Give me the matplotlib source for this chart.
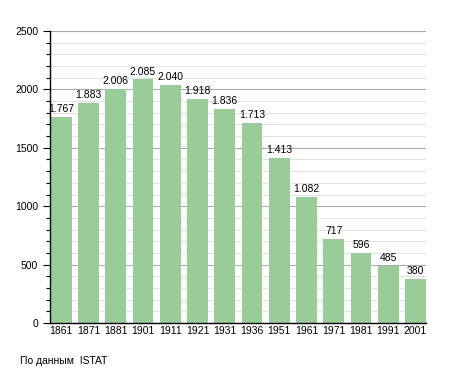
import matplotlib.pyplot as plt
from matplotlib.ticker import MultipleLocator

years = ["1861", "1871", "1881", "1901", "1911", "1921", "1931",
         "1936", "1951", "1961", "1971", "1981", "1991", "2001"]
population = [1767, 1883, 2006, 2085, 2040, 1918, 1836,
              1713, 1413, 1082, 717, 596, 485, 380]

plt.rcParams['font.family'] = ['Liberation Sans', 'DejaVu Sans']

fig = plt.figure(figsize=(4.55, 3.73), dpi=100)
ax = fig.add_axes([0.110, 0.134, 0.826, 0.783])

x = range(len(years))
ax.bar(x, population, width=0.76, color='#99cc99', zorder=2)
for i, v in zip(x, population):
    ax.text(i, v + 25, f"{v:,}".replace(",", "."), ha='center', va='bottom',
            fontsize=7.5, zorder=3)

ax.set_xlim(-0.41, 13.38)
ax.set_ylim(0, 2500)
ax.set_xticks(list(x))
ax.set_xticklabels(years, fontsize=7.5)
ax.yaxis.set_major_locator(MultipleLocator(500))
ax.yaxis.set_minor_locator(MultipleLocator(100))
ax.tick_params(axis='y', labelsize=7.5, length=5, width=0.8)
ax.tick_params(axis='y', which='minor', length=3, width=0.8)
ax.tick_params(axis='x', length=0, pad=2)

ax.grid(axis='y', which='major', color='#aaaaaa', linewidth=0.8, zorder=0)
ax.grid(axis='y', which='minor', color='#e2e2e2', linewidth=0.8, zorder=0)
ax.set_axisbelow(True)
for s in ['top', 'right']:
    ax.spines[s].set_visible(False)
ax.spines['left'].set_linewidth(1.0)
ax.spines['bottom'].set_linewidth(1.0)

fig.text(20 / 455, 1 - 361 / 373, "По данным  ISTAT", fontsize=7.5, va='center')

fig.savefig("out.png", dpi=100)
